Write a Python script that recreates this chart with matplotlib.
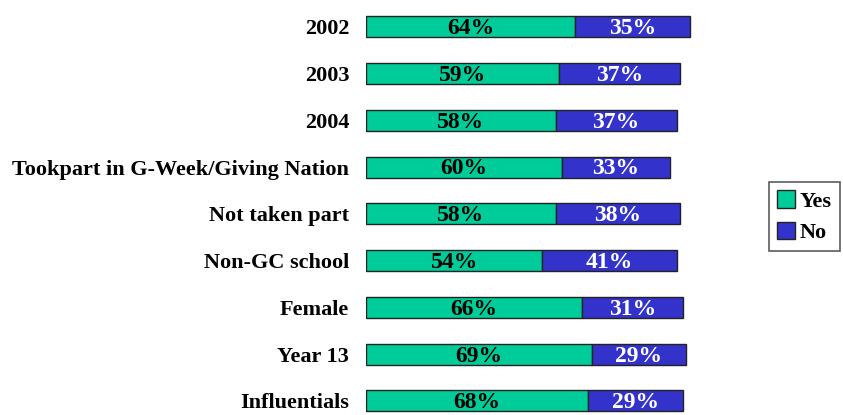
import matplotlib.pyplot as plt

# survey groups, top to bottom
groups = ["2002", "2003", "2004", "Tookpart in G-Week/Giving Nation", "Not taken part",
          "Non-GC school", "Female", "Year 13", "Influentials"]
yes = [64, 59, 58, 60, 58, 54, 66, 69, 68]
no = [35, 37, 37, 33, 38, 41, 31, 29, 29]

yes_color = '#00CC99'
no_color = '#3333CC'

plt.rcParams['font.family'] = ['Liberation Serif', 'DejaVu Serif']

fig = plt.figure(figsize=(8.43, 4.15), dpi=100)
ax = fig.add_axes([0.434, 0.0, 0.388, 1.0])

y = list(range(len(groups)))
h = 0.45
b1 = ax.barh(y, yes, height=h, color=yes_color, edgecolor='#222222', linewidth=1, label='Yes')
b2 = ax.barh(y, no, left=yes, height=h, color=no_color, edgecolor='#222222', linewidth=1, label='No')

for i in y:
    ax.text(yes[i] / 2, i + 0.04, f"{yes[i]}%", ha='center', va='center',
            fontsize=17, fontweight='bold', color='black')
    ax.text(yes[i] + no[i] / 2, i + 0.04, f"{no[i]}%", ha='center', va='center',
            fontsize=17, fontweight='bold', color='white')

ax.set_xlim(0, 100)
ax.set_ylim(8.3, -0.57)
ax.set_yticks(y)
ax.set_yticklabels(groups, fontsize=16, fontweight='bold')
ax.tick_params(axis='y', length=0, pad=12)
ax.set_xticks([])
for s in ax.spines.values():
    s.set_visible(False)

leg = fig.legend(handles=[b1, b2], loc='upper left', bbox_to_anchor=(0.912, 0.561),
                 borderaxespad=0, prop={'size': 16, 'weight': 'bold'}, frameon=True,
                 fancybox=False, edgecolor='#333333', handlelength=0.85, handleheight=0.85,
                 handletextpad=0.2, borderpad=0.35, labelspacing=0.45)
leg.get_frame().set_linewidth(1.2)

fig.savefig('out.png', dpi=100)
